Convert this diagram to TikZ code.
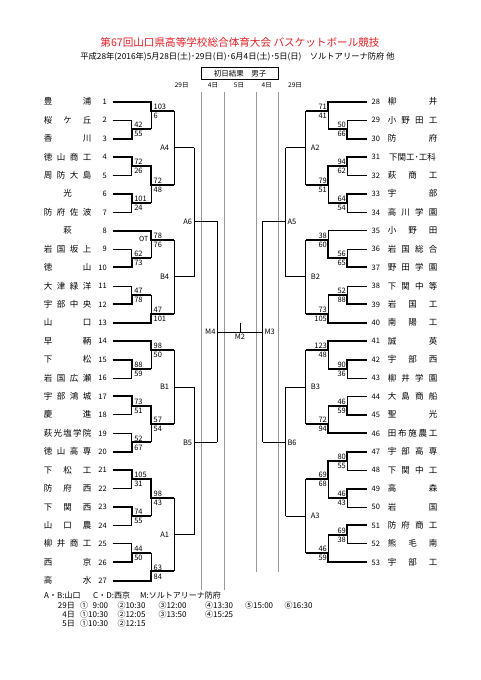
\documentclass[tikz,border=0pt]{standalone}
\usepackage{fontspec}
\setmainfont{Noto Sans CJK JP}
\definecolor{titlered}{RGB}{226,32,38}
\def\qLT{112.7}\def\qLa{131.7}\def\qLb{151}\def\qLc{174.3}\def\qLd{194}\def\qLe{217.3}
\def\qRT{366.7}\def\qRa{347.3}\def\qRb{328.3}\def\qRc{305.7}\def\qRd{285.7}\def\qRe{262.7}
\tikzset{
  ln/.style={line width=0.75pt,black},
  wn/.style={line width=2pt,black,line join=miter},
  gl/.style={line width=0.8pt,black!40},
  sc/.style={font=\fontsize{7.5}{8}\selectfont,inner sep=0pt},
  num/.style={font=\fontsize{7.5}{8}\selectfont,inner sep=0pt},
  nm/.style={font=\fontsize{8.5}{9}\selectfont,inner sep=0pt},
  lab/.style={font=\fontsize{7.5}{8}\selectfont,inner sep=0pt},
  ftx/.style={font=\fontsize{8}{9}\selectfont,inner sep=0pt,anchor=base west},
}
\newcommand\Lteam[4]{%
  \draw[ln] (\qLT,{2*(#1-1)}) -- (#2,{2*(#1-1)});
  \node[num,anchor=base east,yshift=-2.8pt] (tn#1) at (107,{2*(#1-1)}) {#1};
  \foreach \c [count=\k] in {#4}{\node[nm,anchor=base,yshift=-3.1pt] (tm#1-\k) at ({ifthenelse(#3==1,67.5,48+39*(\k-1)/max(#3-1,1))},{2*(#1-1)}) {\c};}%
}
\newcommand\Rteam[4]{%
  \draw[ln] (#2,{2*(#1-28)}) -- (\qRT,{2*(#1-28)});
  \node[num,anchor=base west,yshift=-2.8pt] (tn#1) at (371.5,{2*(#1-28)}) {#1};
  \foreach \c [count=\k] in {#4}{\node[nm,anchor=base,yshift=-3.1pt] (tm#1-\k) at ({ifthenelse(#3==1,412.5,392+41*(\k-1)/max(#3-1,1))},{2*(#1-28)}) {\c};}%
}
\newcommand\Lsc[4]{%
  \node[sc,anchor=base west,xshift=2.4pt,yshift=1.4pt] (L#2t) at (#1,#2) {#3};
  \node[sc,anchor=base west,xshift=2.4pt,yshift=-7.6pt] (L#2b) at (#1,#2) {#4};}
\newcommand\Rsc[4]{%
  \node[sc,anchor=base east,xshift=-1.2pt,yshift=1.4pt] (R#2t) at (#1,#2) {#3};
  \node[sc,anchor=base east,xshift=-1.2pt,yshift=-7.6pt] (R#2b) at (#1,#2) {#4};}
\begin{document}
\begin{tikzpicture}[x=1pt,y=-1pt]
\useasboundingbox (0,0) rectangle (481,680);
\fill[white] (0,0) rectangle (481,680);
% titles
\node[font=\fontsize{10.6}{11}\selectfont,text=titlered,inner sep=0pt] (title) at (240,42) {第67回山口県高等学校総合体育大会 バスケットボール競技};
\node[font=\fontsize{8.3}{9}\selectfont,inner sep=0pt] (sub) at (237.5,56.5) {平成28年(2016年)5月28日(土)･29日(日)･6月4日(土)･5日(日)　ソルトアリーナ防府 他};
\node[draw,line width=0.8pt,minimum width=76.6pt,minimum height=12pt,inner sep=0pt,font=\fontsize{7.5}{8}\selectfont] (hdr) at (240,73.3) {初日結果　男子};
\foreach \xx/\tt [count=\i] in {181.7/29日,213/4日,239/5日,266.7/4日,295/29日}
  \node[font=\fontsize{6.5}{7}\selectfont,inner sep=0pt] (day\i) at (\xx,85.7) {\tt};
% gray day lines
\draw[gl] (201.7,92.3) coordinate (g1a) -- (201.7,590) coordinate (g1b);
\draw[gl] (224,92.3) coordinate (g2a) -- (224,590) coordinate (g2b);
\draw[gl] (256,92.3) coordinate (g3a) -- (256,571.7) coordinate (g3b);
\draw[gl] (278.7,92.3) coordinate (g4a) -- (278.7,571.7) coordinate (g4b);

\begin{scope}[yshift=-101.7pt,y=-9.21pt]
% ---------- left teams
\Lteam{1}{\qLb}{2}{豊,浦}
\Lteam{2}{\qLa}{3}{桜,ケ,丘}
\Lteam{3}{\qLa}{2}{香,川}
\Lteam{4}{\qLa}{4}{徳,山,商,工}
\Lteam{5}{\qLa}{4}{周,防,大,島}
\Lteam{6}{\qLa}{1}{光}
\Lteam{7}{\qLa}{4}{防,府,佐,波}
\Lteam{8}{\qLb}{1}{萩}
\Lteam{9}{\qLa}{4}{岩,国,坂,上}
\Lteam{10}{\qLa}{2}{徳,山}
\Lteam{11}{\qLa}{4}{大,津,緑,洋}
\Lteam{12}{\qLa}{4}{宇,部,中,央}
\Lteam{13}{\qLb}{2}{山,口}
\Lteam{14}{\qLb}{2}{早,鞆}
\Lteam{15}{\qLa}{2}{下,松}
\Lteam{16}{\qLa}{4}{岩,国,広,瀬}
\Lteam{17}{\qLa}{4}{宇,部,鴻,城}
\Lteam{18}{\qLa}{2}{慶,進}
\Lteam{19}{\qLa}{5}{萩,光,塩,学,院}
\Lteam{20}{\qLa}{4}{徳,山,高,専}
\Lteam{21}{\qLa}{3}{下,松,工}
\Lteam{22}{\qLa}{3}{防,府,西}
\Lteam{23}{\qLa}{3}{下,関,西}
\Lteam{24}{\qLa}{3}{山,口,農}
\Lteam{25}{\qLa}{4}{柳,井,商,工}
\Lteam{26}{\qLa}{2}{西,京}
\Lteam{27}{\qLb}{2}{高,水}
% left structure
\foreach \a/\b in {2/4,6/8,10/12,16/18,20/22,28/30,32/34,36/38,40/42,44/46,48/50}
  \draw[ln] (\qLa,\a) -- (\qLa,\b);
\foreach \a/\b in {0/3,7/11,14/17,21/24,26/29,33/37,41/45,49/52}
  \draw[ln] (\qLb,\a) -- (\qLb,\b);
\foreach \a/\b/\o in {1/9/5,15/23/19,27/35/31,43/51/47}
  \draw[ln] (\qLc,\a) -- (\qLc,\b) (\qLc,\o) -- (\qLd,\o);
\foreach \a/\b/\o in {5/19/13,31/47/37}
  \draw[ln] (\qLd,\a) -- (\qLd,\b) (\qLd,\o) -- (\qLe,\o);
\draw[ln] (\qLe,13) -- (\qLe,37);
\draw[ln] (\qLe,25) coordinate (m4) -- (\qRe,25) coordinate (m3);
\draw[ln] (240,24) coordinate (m2t) -- (240,25) coordinate (m2);
% left winners
\draw[wn] (\qLT,0) -- (\qLb,0) -- (\qLb,1) -- (\qLc,1);
\draw[wn] (\qLT,4) -- (\qLa,4) -- (\qLa,3) -- (\qLb,3);
\draw[wn] (\qLT,6) -- (\qLa,6) -- (\qLa,7) -- (\qLb,7) -- (\qLb,9) -- (\qLc,9);
\draw[wn] (\qLT,10) -- (\qLa,10) -- (\qLa,11) -- (\qLb,11);
\draw[wn] (\qLT,14) -- (\qLb,14) -- (\qLb,15) -- (\qLc,15);
\draw[wn] (\qLT,18) -- (\qLa,18) -- (\qLa,17) -- (\qLb,17);
\draw[wn] (\qLT,22) -- (\qLa,22) -- (\qLa,21) -- (\qLb,21);
\draw[wn] (\qLT,24) -- (\qLb,24) -- (\qLb,23) -- (\qLc,23);
\draw[wn] (\qLT,26) -- (\qLb,26) -- (\qLb,27) -- (\qLc,27);
\draw[wn] (\qLT,28) -- (\qLa,28) -- (\qLa,29) -- (\qLb,29);
\draw[wn] (\qLT,32) -- (\qLa,32) -- (\qLa,33) -- (\qLb,33) -- (\qLb,35) -- (\qLc,35);
\draw[wn] (\qLT,38) -- (\qLa,38) -- (\qLa,37) -- (\qLb,37);
\draw[wn] (\qLT,40) -- (\qLa,40) -- (\qLa,41) -- (\qLb,41) -- (\qLb,43) -- (\qLc,43);
\draw[wn] (\qLT,44) -- (\qLa,44) -- (\qLa,45) -- (\qLb,45);
\draw[wn] (\qLT,50) -- (\qLa,50) -- (\qLa,49) -- (\qLb,49);
\draw[wn] (\qLT,52) -- (\qLb,52) -- (\qLb,51) -- (\qLc,51);
% left scores
\Lsc{\qLa}{3}{42}{55}
\Lsc{\qLa}{7}{72}{26}
\Lsc{\qLa}{11}{101}{24}
\Lsc{\qLa}{17}{62}{73}
\Lsc{\qLa}{21}{47}{78}
\Lsc{\qLa}{29}{88}{59}
\Lsc{\qLa}{33}{73}{51}
\Lsc{\qLa}{37}{52}{67}
\Lsc{\qLa}{41}{105}{31}
\Lsc{\qLa}{45}{74}{55}
\Lsc{\qLa}{49}{44}{50}
\Lsc{\qLb}{1}{103}{6}
\Lsc{\qLb}{9}{72}{48}
\Lsc{\qLb}{15}{78}{76}
\Lsc{\qLb}{23}{47}{101}
\Lsc{\qLb}{27}{98}{50}
\Lsc{\qLb}{35}{57}{54}
\Lsc{\qLb}{43}{98}{43}
\Lsc{\qLb}{51}{63}{84}
\node[sc,font=\fontsize{7}{8}\selectfont,anchor=base east,xshift=-2.6pt,yshift=-1.8pt] (ot) at (\qLb,15) {OT};
% left labels
\node[lab,anchor=east,xshift=-5pt] (A4) at (\qLc,5) {A4};
\node[lab,anchor=east,xshift=-5pt] (B4) at (\qLc,19) {B4};
\node[lab,anchor=east,xshift=-5pt] (B1) at (\qLc,31) {B1};
\node[lab,anchor=east,xshift=-5pt] (A1) at (\qLc,47) {A1};
\node[lab,anchor=east,xshift=-1.7pt] (A6) at (\qLd,13) {A6};
\node[lab,anchor=east,xshift=-1.7pt] (B5) at (\qLd,37) {B5};
\node[lab,anchor=east,xshift=-1.6pt] (M4) at (\qLe,25) {M4};
\node[lab,anchor=north,yshift=-2pt] (M2) at (240,25) {M2};
\node[lab,anchor=west,xshift=1.6pt] (M3) at (\qRe,25) {M3};

% ---------- right teams
\Rteam{28}{\qRb}{2}{柳,井}
\Rteam{29}{\qRa}{4}{小,野,田,工}
\Rteam{30}{\qRa}{2}{防,府}
\Rteam{31}{\qRa}{1}{下関工･工科}
\Rteam{32}{\qRa}{3}{萩,商,工}
\Rteam{33}{\qRa}{2}{宇,部}
\Rteam{34}{\qRa}{4}{高,川,学,園}
\Rteam{35}{\qRb}{3}{小,野,田}
\Rteam{36}{\qRa}{4}{岩,国,総,合}
\Rteam{37}{\qRa}{4}{野,田,学,園}
\Rteam{38}{\qRa}{4}{下,関,中,等}
\Rteam{39}{\qRa}{3}{岩,国,工}
\Rteam{40}{\qRb}{3}{南,陽,工}
\Rteam{41}{\qRb}{2}{誠,英}
\Rteam{42}{\qRa}{3}{宇,部,西}
\Rteam{43}{\qRa}{4}{柳,井,学,園}
\Rteam{44}{\qRa}{4}{大,島,商,船}
\Rteam{45}{\qRa}{2}{聖,光}
\Rteam{46}{\qRb}{5}{田,布,施,農,工}
\Rteam{47}{\qRa}{4}{宇,部,高,専}
\Rteam{48}{\qRa}{4}{下,関,中,工}
\Rteam{49}{\qRa}{2}{高,森}
\Rteam{50}{\qRa}{2}{岩,国}
\Rteam{51}{\qRa}{4}{防,府,商,工}
\Rteam{52}{\qRa}{3}{熊,毛,南}
\Rteam{53}{\qRb}{3}{宇,部,工}
% right structure
\foreach \a/\b in {2/4,6/8,10/12,16/18,20/22,28/30,32/34,38/40,42/44,46/48}
  \draw[ln] (\qRa,\a) -- (\qRa,\b);
\foreach \a/\b in {0/3,7/11,14/17,21/24,26/29,33/36,39/43,47/50}
  \draw[ln] (\qRb,\a) -- (\qRb,\b);
\foreach \a/\b/\o in {1/9/5,15/23/19,27/35/31,41/49/45}
  \draw[ln] (\qRc,\a) -- (\qRc,\b) (\qRc,\o) -- (\qRd,\o);
\foreach \a/\b/\o in {5/19/13,31/45/37}
  \draw[ln] (\qRd,\a) -- (\qRd,\b) (\qRd,\o) -- (\qRe,\o);
\draw[ln] (\qRe,13) -- (\qRe,37);
% right winners
\draw[wn] (\qRT,0) -- (\qRb,0) -- (\qRb,1) -- (\qRc,1);
\draw[wn] (\qRT,4) -- (\qRa,4) -- (\qRa,3) -- (\qRb,3);
\draw[wn] (\qRT,6) -- (\qRa,6) -- (\qRa,7) -- (\qRb,7) -- (\qRb,9) -- (\qRc,9);
\draw[wn] (\qRT,10) -- (\qRa,10) -- (\qRa,11) -- (\qRb,11);
\draw[wn] (\qRT,18) -- (\qRa,18) -- (\qRa,17) -- (\qRb,17) -- (\qRb,15) -- (\qRc,15);
\draw[wn] (\qRT,22) -- (\qRa,22) -- (\qRa,21) -- (\qRb,21);
\draw[wn] (\qRT,24) -- (\qRb,24) -- (\qRb,23) -- (\qRc,23);
\draw[wn] (\qRT,26) -- (\qRb,26) -- (\qRb,27) -- (\qRc,27);
\draw[wn] (\qRT,28) -- (\qRa,28) -- (\qRa,29) -- (\qRb,29);
\draw[wn] (\qRT,34) -- (\qRa,34) -- (\qRa,33) -- (\qRb,33);
\draw[wn] (\qRT,36) -- (\qRb,36) -- (\qRb,35) -- (\qRc,35);
\draw[wn] (\qRT,38) -- (\qRa,38) -- (\qRa,39) -- (\qRb,39) -- (\qRb,41) -- (\qRc,41);
\draw[wn] (\qRT,42) -- (\qRa,42) -- (\qRa,43) -- (\qRb,43);
\draw[wn] (\qRT,46) -- (\qRa,46) -- (\qRa,47) -- (\qRb,47);
\draw[wn] (\qRT,50) -- (\qRb,50) -- (\qRb,49) -- (\qRc,49);
% right scores
\Rsc{\qRa}{3}{50}{66}
\Rsc{\qRa}{7}{94}{62}
\Rsc{\qRa}{11}{64}{54}
\Rsc{\qRa}{17}{56}{65}
\Rsc{\qRa}{21}{52}{88}
\Rsc{\qRa}{29}{90}{36}
\Rsc{\qRa}{33}{46}{59}
\Rsc{\qRa}{39}{80}{55}
\Rsc{\qRa}{43}{46}{43}
\Rsc{\qRa}{47}{69}{38}
\Rsc{\qRb}{1}{71}{41}
\Rsc{\qRb}{9}{79}{51}
\Rsc{\qRb}{15}{38}{60}
\Rsc{\qRb}{23}{73}{105}
\Rsc{\qRb}{27}{123}{48}
\Rsc{\qRb}{35}{72}{94}
\Rsc{\qRb}{41}{69}{68}
\Rsc{\qRb}{49}{46}{59}
% right labels
\node[lab,anchor=west,xshift=5pt] (A2) at (\qRc,5) {A2};
\node[lab,anchor=west,xshift=5pt] (B2) at (\qRc,19) {B2};
\node[lab,anchor=west,xshift=5pt] (B3) at (\qRc,31) {B3};
\node[lab,anchor=west,xshift=5pt] (A3) at (\qRc,45) {A3};
\node[lab,anchor=west,xshift=1.6pt] (A5) at (\qRd,13) {A5};
\node[lab,anchor=west,xshift=1.6pt] (B6) at (\qRd,37) {B6};
\end{scope}

% footer
\node[ftx] (f1a) at (44,598) {A・B:山口};
\node[ftx] (f1b) at (93,598) {C・D:西京};
\node[ftx] (f1c) at (140,598) {M:ソルトアリーナ防府};
\node[ftx,anchor=base east] (f2d) at (75,608.7) {29日};
\node[ftx,anchor=base east] (f3d) at (75,617.3) {4日};
\node[ftx,anchor=base east] (f4d) at (75,626.3) {5日};
\foreach \xx/\tt [count=\i] in {80/①\phantom{1}9:00,117.3/②10:30,158.3/③12:00,205/④13:30,245/⑤15:00,284.3/⑥16:30}
  \node[ftx] (f2t\i) at (\xx,608.7) {\tt};
\foreach \xx/\tt [count=\i] in {80/①10:30,117.3/②12:05,158.3/③13:50,205/④15:25}
  \node[ftx] (f3t\i) at (\xx,617.3) {\tt};
\foreach \xx/\tt [count=\i] in {80/①10:30,117.3/②12:15}
  \node[ftx] (f4t\i) at (\xx,626.3) {\tt};
\end{tikzpicture}
\end{document}
